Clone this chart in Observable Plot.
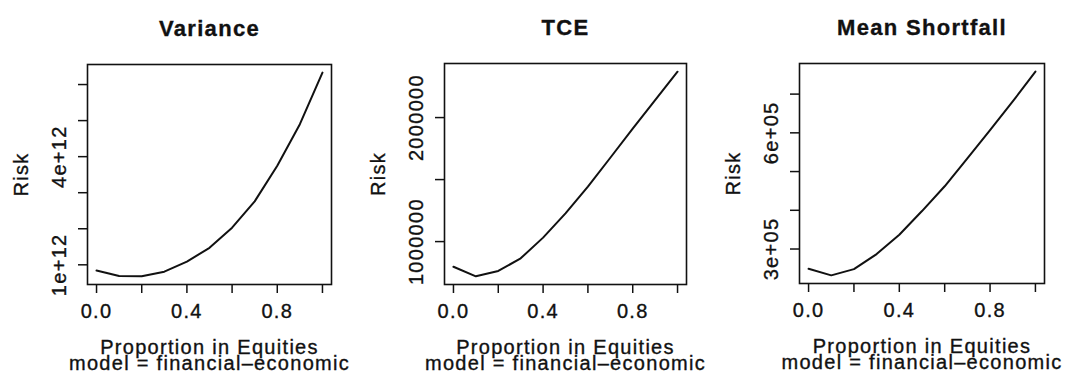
<!DOCTYPE html>
<html>
<head>
<meta charset="utf-8">
<script src="https://cdn.jsdelivr.net/npm/d3@7"></script>
<script src="https://cdn.jsdelivr.net/npm/@observablehq/plot@0.6"></script>
<style>
  html, body { margin: 0; padding: 0; background: #fff; overflow: hidden; }
  #chart { position: relative; width: 1065px; height: 373px; }
  #chart svg { position: absolute; top: 0; }
  #chart svg text { stroke: #111; stroke-width: 0.35px; }
</style>
</head>
<body>
<div id="chart"></div>
<script>
// ---- data ----
const proportion = [0, 0.1, 0.2, 0.3, 0.4, 0.5, 0.6, 0.7, 0.8, 0.9, 1.0];

const varianceRisk = [0.84e12, 0.69e12, 0.68e12, 0.81e12, 1.09e12, 1.47e12, 2.03e12, 2.76e12, 3.75e12, 4.90e12, 6.33e12];
const tceRisk = [797000, 720000, 763000, 865000, 1032000, 1227000, 1443000, 1676000, 1910000, 2140000, 2370000];
const shortfallRisk = [249000, 232000, 248000, 287000, 337000, 398000, 462000, 534000, 607000, 681000, 758000];

const titles = ["Variance", "TCE", "Mean Shortfall"];

const xTicks = [0, 0.2, 0.4, 0.6, 0.8, 1.0];
const xTickLabels = ["0.0", "", "0.4", "", "0.8", ""];

const varianceTicks = [1e12, 2e12, 3e12, 4e12, 5e12, 6e12];
const varianceTickLabels = ["1e+12", "", "", "4e+12", "", ""];
const tceTicks = [1000000, 1500000, 2000000];
const tceTickLabels = ["1000000", "", "2000000"];
const shortfallTicks = [3e5, 4e5, 5e5, 6e5, 7e5];
const shortfallTickLabels = ["3e+05", "", "", "6e+05", ""];

const yLabel = "Risk";
const xLabel = "Proportion in Equities";
const modelLabel = "model = financial\u2013economic";

// ---- layout ----
const layout = [
  {svgLeft: 0,   boxLeft: 87,  boxRight: 331,  top: 64, bottom: 284},
  {svgLeft: 350, boxLeft: 444, boxRight: 686,  top: 63, bottom: 284},
  {svgLeft: 705, boxLeft: 799, boxRight: 1044, top: 63, bottom: 283}
];

const panels = [
  {title: titles[0], values: varianceRisk, ticks: varianceTicks, labels: varianceTickLabels},
  {title: titles[1], values: tceRisk, ticks: tceTicks, labels: tceTickLabels},
  {title: titles[2], values: shortfallRisk, ticks: shortfallTicks, labels: shortfallTickLabels}
];

const H = 373;
const ink = "#111";
const xLabelMap = new Map(xTicks.map((d, i) => [d, xTickLabels[i]]));

const chart = document.getElementById("chart");

panels.forEach((p, k) => {
  const L = layout[k];
  const data = proportion.map((x, i) => ({x, y: p.values[i]}));
  const lo = d3.min(p.values), hi = d3.max(p.values), r = hi - lo;
  const labeled = p.ticks.map((t, i) => ({t, s: p.labels[i]})).filter(d => d.s !== "");
  const width = L.boxRight - L.svgLeft + 12;

  const svg = Plot.plot({
    width,
    height: H,
    marginLeft: L.boxLeft - L.svgLeft,
    marginRight: 12,
    marginTop: L.top,
    marginBottom: H - L.bottom,
    x: {domain: [-0.04, 1.04]},
    y: {domain: [lo - 0.04 * r, hi + 0.04 * r]},
    style: {
      fontFamily: "'Liberation Sans', Arial, Helvetica, sans-serif",
      fontSize: "20px",
      letterSpacing: "1.3px",
      color: ink,
      background: "transparent",
      overflow: "visible"
    },
    marks: [
      Plot.axisX({ticks: xTicks, tickSize: 9, tickPadding: 10, strokeWidth: 1.5,
                  tickFormat: d => xLabelMap.get(d) ?? "", label: null}),
      Plot.axisY({ticks: p.ticks, tickSize: 9, strokeWidth: 1.5,
                  tickFormat: () => "", label: null}),
      Plot.text(labeled, {y: "t", text: "s", frameAnchor: "left", rotate: -90,
                          dx: -28, textAnchor: "middle", lineAnchor: "middle", fill: ink}),
      Plot.text([yLabel], {frameAnchor: "left", rotate: -90, dx: -66,
                           textAnchor: "middle", lineAnchor: "middle", fill: ink}),
      Plot.text([p.title], {frameAnchor: "top", dy: -36, lineAnchor: "middle",
                            fontWeight: "bold", fontSize: 22, fill: ink, ariaLabel: "title"}),
      Plot.text([xLabel], {frameAnchor: "bottom", dy: 63.5, lineAnchor: "middle", fill: ink}),
      Plot.text([modelLabel], {frameAnchor: "bottom", dy: 79, lineAnchor: "middle", fill: ink}),
      Plot.line(data, {x: "x", y: "y", stroke: ink, strokeWidth: 2}),
      Plot.frame({stroke: ink, strokeWidth: 1.6})
    ]
  });
  d3.select(svg).selectAll('g[aria-label="title"] text').attr("letter-spacing", "2px");
  svg.style.left = L.svgLeft + "px";
  chart.appendChild(svg);
});
</script>
</body>
</html>
